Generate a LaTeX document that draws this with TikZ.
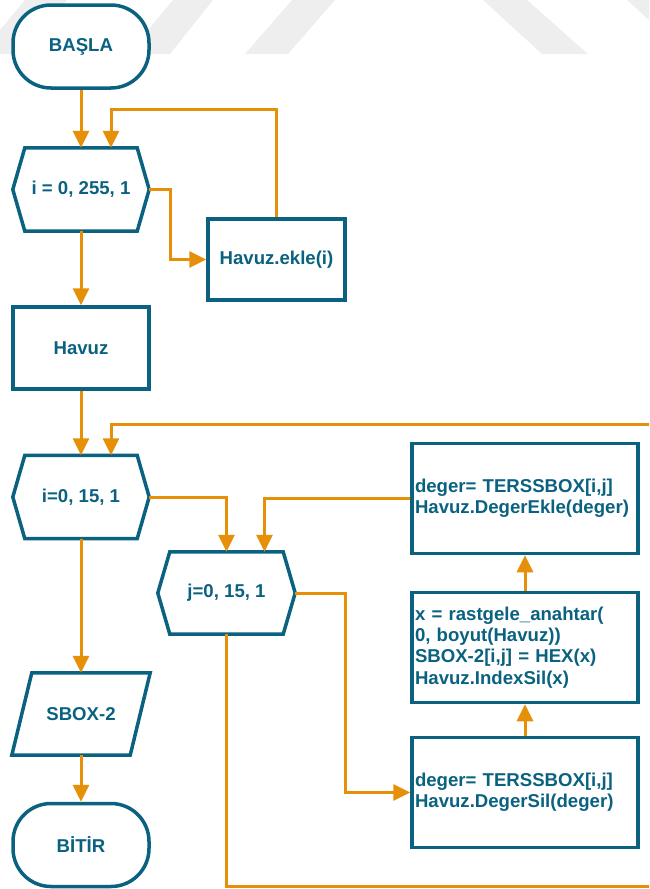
\documentclass[tikz,border=0pt]{standalone}
\usepackage{fontspec}
\setmainfont{Liberation Sans}
\usetikzlibrary{arrows.meta}
\definecolor{flowteal}{RGB}{10,98,128}
\definecolor{floworange}{RGB}{229,144,8}
\definecolor{markgray}{RGB}{238,238,238}
\begin{document}
\begin{tikzpicture}[x=1pt,y=-1pt,
  every node/.style={font=\fontsize{18.6pt}{21.3pt}\selectfont\bfseries, text=flowteal},
  terminal/.style={draw=flowteal, line width=3.5pt, fill=white, rounded corners=38pt,
    minimum width=136pt, minimum height=83pt, inner sep=0pt},
  procbox/.style={draw=flowteal, line width=3.5pt, fill=white,
    minimum width=136pt, minimum height=82pt, inner sep=0pt},
  loopbox/.style={minimum width=136pt, minimum height=83pt, inner sep=0pt},
  iobox/.style={minimum width=138pt, minimum height=82pt, inner sep=0pt},
  textbox/.style={draw=flowteal, line width=3.5pt, fill=white, minimum width=226pt,
    minimum height=110pt, text width=220pt, inner xsep=3pt, inner ysep=0pt, align=left},
  outline/.style={draw=flowteal, line width=3.5pt, line join=miter},
  flow/.style={draw=floworange, line width=3pt, -{Triangle[length=17pt,width=16pt]}},
]
\clip (0,0) rectangle (649,889);

% faint diagonal bands along the top edge
\fill[markgray] (-20,54) -- (22,54) -- (67,0) -- (25,0) -- cycle;
\fill[markgray] (128,54) -- (170,54) -- (213,0) -- (173,0) -- cycle;
\fill[markgray] (245,54) -- (288,54) -- (335,0) -- (292,0) -- cycle;
\fill[markgray] (483,0) -- (527,0) -- (588,54) -- (542,54) -- cycle;
\fill[markgray] (627,0) -- (671,0) -- (730,54) -- (686,54) -- cycle;

% blocks
\node[terminal] (start) at (81,46.5) {BAŞLA};
\node[loopbox] (h1) at (81,189.5) {i = 0, 255, 1};
\node[procbox, minimum width=137pt, minimum height=81pt] (ekle) at (276.5,259.5) {Havuz.ekle(i)};
\node[procbox] (havuz) at (81,348) {Havuz};
\node[loopbox] (h2) at (81,497) {i=0, 15, 1};
\node[loopbox, minimum width=137pt, minimum height=82pt] (h3) at (226.5,593) {j=0, 15, 1};
\node[textbox] (t1) at (525,498.5) {deger= TERSSBOX[i,j]\\Havuz.DegerEkle(deger)};
\node[textbox] (t2) at (525,647.5) {x = rastgele\_anahtar(\\0, boyut(Havuz))\\SBOX-2[i,j] = HEX(x)\\Havuz.IndexSil(x)};
\node[textbox] (t3) at (525,792.5) {deger= TERSSBOX[i,j]\\Havuz.DegerSil(deger)};
\node[iobox] (out) at (81,714) {SBOX-2};
\node[terminal] (stop) at (81,845) {BİTİR};

% loop (hexagon) outlines
\foreach \n in {h1,h2,h3}
  \draw[outline] (\n.west) -- ([xshift=12pt]\n.north west) -- ([xshift=-12pt]\n.north east)
    -- (\n.east) -- ([xshift=-12pt]\n.south east) -- ([xshift=12pt]\n.south west) -- cycle;
% output (parallelogram) outline
\draw[outline] ([xshift=20pt]out.north west) -- (out.north east)
  -- ([xshift=-20pt]out.south east) -- (out.south west) -- cycle;

% connectors
\draw[flow] (start.south) -- (h1.north);
\draw[flow] (h1.east) -- ++(21,0) |- (ekle.west);
\draw[flow] (ekle.north) -- ++(0,-108) -| ([xshift=30pt]h1.north);
\draw[flow] (h1.south) -- (havuz.north);
\draw[flow] (havuz.south) -- (h2.north);
\draw[flow] (h2.east) -| (h3.north);
\draw[flow] (h3.south) -- ++(0,252) -| (680,424) -| ([xshift=30pt]h2.north);
\draw[flow] (t1.west) -| ([xshift=38pt]h3.north);
\draw[flow] (h3.east) -- ++(50,0) |- (t3.west);
\draw[flow] (t3.north) -- (t2.south);
\draw[flow] (t2.north) -- (t1.south);
\draw[flow] (h2.south) -- (out.north);
\draw[flow] (out.south) -- (stop.north);
\end{tikzpicture}
\end{document}
